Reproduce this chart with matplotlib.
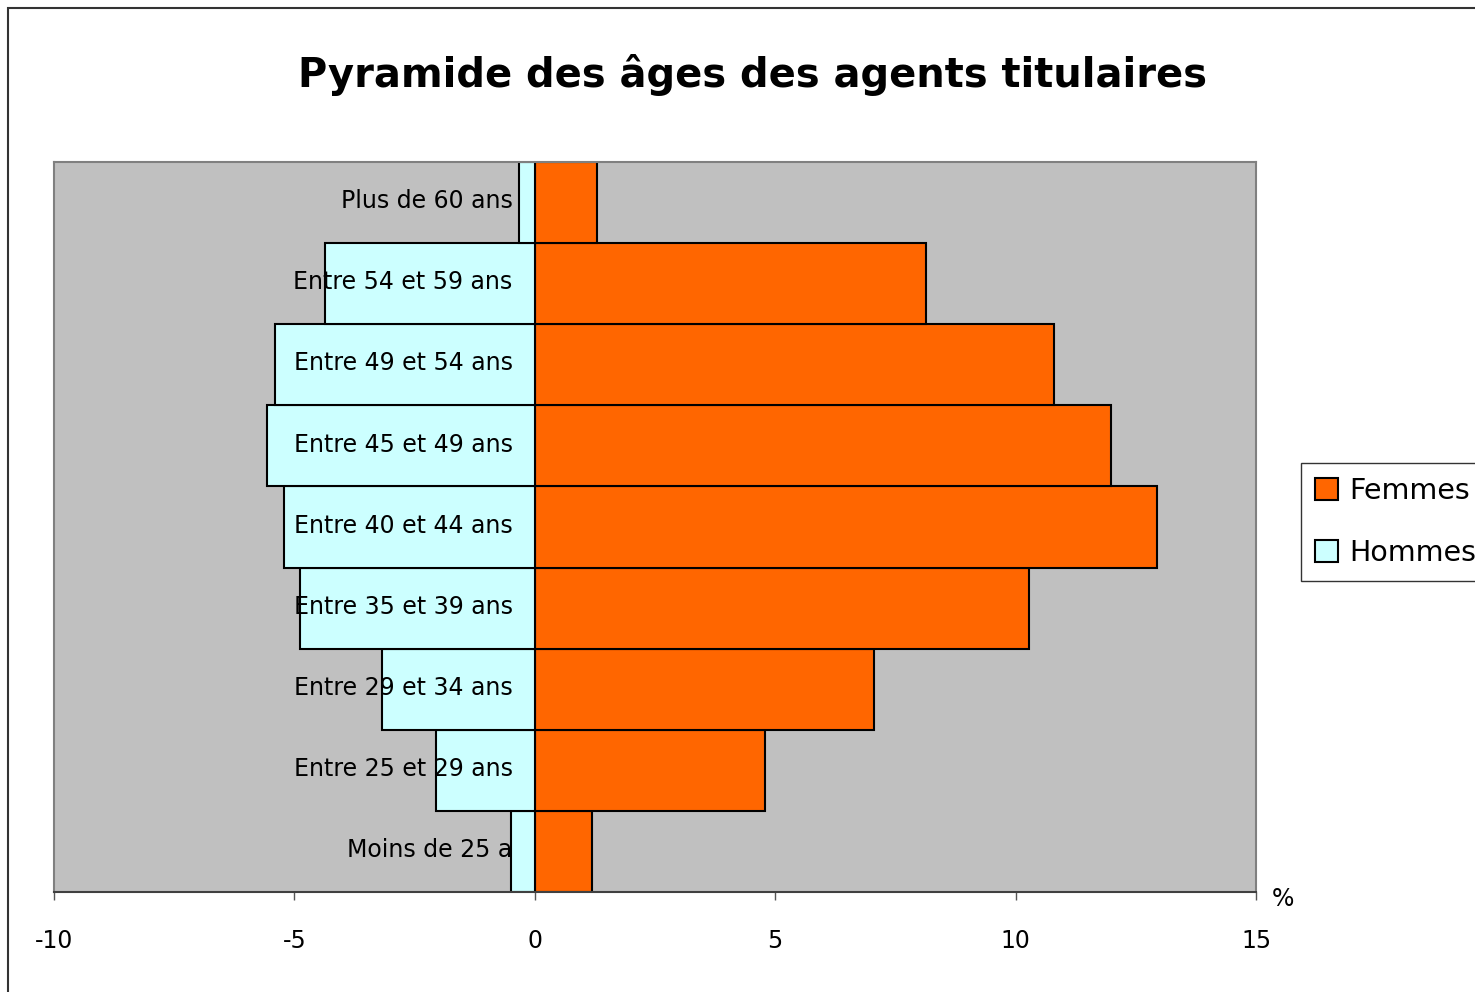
import matplotlib
matplotlib.use("Agg")
import matplotlib.pyplot as plt
from matplotlib.patches import Rectangle

categories = ["Moins de 25 a", "Entre 25 et 29 ans", "Entre 29 et 34 ans", "Entre 35 et 39 ans",
              "Entre 40 et 44 ans", "Entre 45 et 49 ans", "Entre 49 et 54 ans", "Entre 54 et 59 ans",
              "Plus de 60 ans"]
hommes = [-0.50, -2.06, -3.18, -4.89, -5.22, -5.57, -5.41, -4.37, -0.33]
femmes = [1.19, 4.78, 7.05, 10.27, 12.94, 11.98, 10.79, 8.13, 1.29]
xticks = [-10, -5, 0, 5, 10, 15]

plt.rcParams["font.family"] = "DejaVu Sans"
fig = plt.figure(figsize=(14.75, 9.92), dpi=100)
W, H = 1475, 992
ax = fig.add_axes([54 / W, 1 - 892 / H, (1256 - 54) / W, (892 - 162) / H])
ax.set_facecolor("#C0C0C0")

y = range(len(categories))
ax.barh(y, femmes, height=1.0, color="#FF6600", edgecolor="black", lw=1.5, label="Femmes", zorder=2)
ax.barh(y, hommes, height=1.0, color="#CCFFFF", edgecolor="black", lw=1.5, label="Hommes", zorder=2)

for i, lab in enumerate(categories):
    ax.annotate(lab, (0, i), xytext=(-16, 1), textcoords="offset points", ha="right", va="center",
                fontsize=17, zorder=5)

ax.set_xlim(-10, 15)
ax.set_ylim(-0.5, len(categories) - 0.5)
ax.set_yticks([])
ax.set_xticks(xticks)
ax.set_xticklabels([str(t) for t in xticks], fontsize=17)
ax.tick_params(axis="x", direction="out", length=6, width=1, color="#555555", pad=21)
for s in ["top", "left", "right"]:
    ax.spines[s].set_color("#808080")
    ax.spines[s].set_linewidth(1.5)
ax.spines["bottom"].set_color("#404040")
ax.spines["bottom"].set_linewidth(1.5)

fig.text(753 / W, 1 - 75 / H, "Pyramide des âges des agents titulaires", ha="center", va="center",
         fontsize=28.8, fontweight="bold")
fig.text(1283 / W, 1 - 899 / H, "%", ha="center", va="center", fontsize=17)

leg = fig.legend(loc="center left", bbox_to_anchor=(1301 / W, 1 - 522 / H), fontsize=20.5,
                 frameon=True, fancybox=False, edgecolor="black", handlelength=0.8, handleheight=0.8,
                 handletextpad=0.4, labelspacing=1.2, borderpad=0.5, borderaxespad=0)
leg.get_frame().set_linewidth(1.0)

fig.patches.append(Rectangle((8 / W, -0.01), 1.05, 1 - 8 / H + 0.01, transform=fig.transFigure,
                             fill=False, edgecolor="#333333", lw=1.5))

fig.savefig("out.png", dpi=100)
